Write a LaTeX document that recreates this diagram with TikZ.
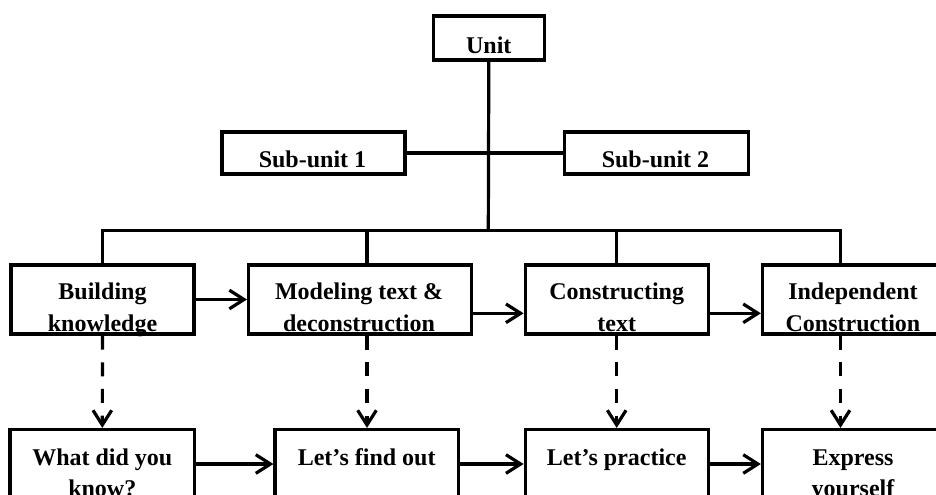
\documentclass[tikz,border=0pt]{standalone}
\usepackage{fontspec}
\setmainfont{Liberation Serif}
\usetikzlibrary{arrows.meta}
\begin{document}
\begin{tikzpicture}[x=0.75pt,y=-0.75pt,
  line width=2.4pt,
  box/.style={draw, rectangle, inner sep=0pt, minimum width=#1},
  tall/.style={minimum height=51.75pt},
  lbl/.style={anchor=north, inner sep=0pt, align=center, font=\fontsize{18pt}{23.8pt}\selectfont\bfseries},
  arr/.style={-{Straight Barb[length=11pt,width=14pt]}},
  dsh/.style={arr, dash pattern=on 10.5pt off 9.5pt},
]
\useasboundingbox (0,0) rectangle (936,494);
\clip (0,0) rectangle (936,494);

% top boxes
\node[box=83.25pt, minimum height=33pt] (unit) at (488.8,37.9) {};
\node[lbl] (unitT) at (488.8,29.3) {\strut Unit};
\node[box=137.25pt, minimum height=31.5pt] (sub1) at (313.5,153) {};
\node[lbl] (sub1T) at (312.5,143.8) {\strut Sub-unit 1};
\node[box=138pt, minimum height=31.5pt] (sub2) at (656.2,153) {};
\node[lbl] (sub2T) at (655.5,143.8) {\strut Sub-unit 2};

% stage row
\node[box=137.25pt, tall] (build) at (102.5,299.5) {};
\node[lbl] (buildT) at (102.5,276.1) {\strut Building\\knowledge};
\node[box=167.25pt, tall] (model) at (360.1,299.5) {};
\node[lbl] (modelT) at (359,276.1) {\strut Modeling text \&\\deconstruction};
\node[box=137.25pt, tall] (constr) at (616.7,299.5) {};
\node[lbl] (constrT) at (616.7,276.1) {\strut Constructing\\text};
\node[box=137.25pt, tall] (indep) at (854,299.5) {};
\node[lbl] (indepT) at (853,276.1) {\strut Independent\\Construction};

% activity row
\node[box=138.4pt, tall] (what) at (102.3,464) {};
\node[lbl] (whatT) at (102.3,441.3) {\strut What did you\\know?};
\node[box=137.5pt, tall] (find) at (366.7,464) {};
\node[lbl] (findT) at (366.7,441.3) {\strut Let’s find out};
\node[box=137.25pt, tall] (practice) at (616.7,464) {};
\node[lbl] (practiceT) at (616.7,441.3) {\strut Let’s practice};
\node[box=137.25pt, tall] (express) at (854,464) {};
\node[lbl] (expressT) at (853,441.3) {\strut Express\\yourself};

% tree
\coordinate (hub) at (488.3,230.5);
\coordinate (j1) at (102.5,230.5);
\coordinate (j2) at (367,230.5);
\coordinate (j3) at (616.7,230.5);
\coordinate (j4) at (840.5,230.5);
\coordinate (r2) at (0,313.3);
\draw (unit.south) -- (hub);
\draw (sub1.east) -- (sub2.west);
\draw (j1 |- build.north) -- (j1) -- (j4) -- (j4 |- indep.north);
\draw (j2) -- (j2 |- model.north);
\draw (j3) -- (j3 |- constr.north);

% flow arrows
\draw[arr] (build.east) -- (model.west);
\draw[arr] (model.east |- r2) -- (constr.west |- r2);
\draw[arr] (constr.east |- r2) -- (indep.west |- r2);
\draw[arr] (what.east) -- (find.west);
\draw[arr] (find.east) -- (practice.west);
\draw[arr] (practice.east) -- (express.west);

% dashed links
\draw[dsh] (build.south) -- (what.north);
\draw[dsh] (j2 |- model.south) -- (j2 |- find.north);
\draw[dsh] (constr.south) -- (practice.north);
\draw[dsh] (j4 |- indep.south) -- (j4 |- express.north);
\end{tikzpicture}
\end{document}
